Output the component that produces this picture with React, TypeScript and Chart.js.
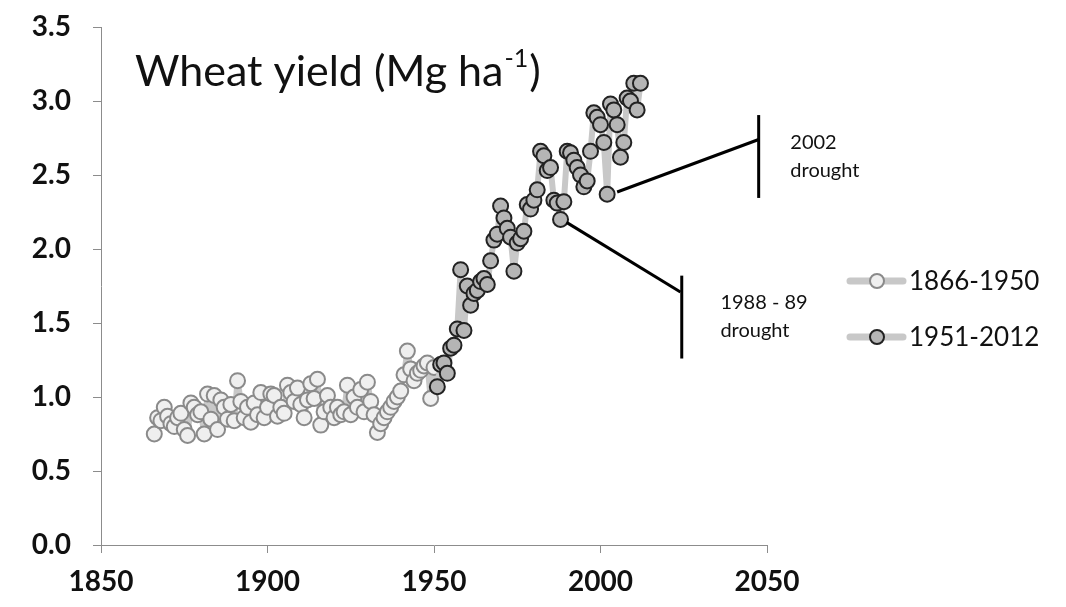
import React, { useEffect, useRef } from 'react';
import { Chart, registerables } from 'chart.js';

Chart.register(...registerables);

const FONT = 'Lato, "Open Sans", sans-serif';

// 1866-1950 series
const earlyStartYear = 1866;
const earlyYield = [
  0.75, 0.86, 0.84, 0.93, 0.87, 0.82, 0.8, 0.86, 0.89, 0.78,
  0.74, 0.96, 0.93, 0.88, 0.9, 0.75, 1.02, 0.85, 1.01, 0.78,
  0.98, 0.93, 0.85, 0.95, 0.84, 1.11, 0.97, 0.86, 0.93, 0.83,
  0.96, 0.88, 1.03, 0.86, 0.93, 1.02, 1.01, 0.87, 0.93, 0.89,
  1.08, 1.03, 0.97, 1.06, 0.95, 0.86, 0.98, 1.09, 0.99, 1.12,
  0.81, 0.9, 1.01, 0.93, 0.86, 0.93, 0.88, 0.9, 1.08, 0.88,
  1.0, 0.93, 1.05, 0.9, 1.1, 0.97, 0.88, 0.76, 0.82, 0.86,
  0.9, 0.93, 0.97, 1.0, 1.04, 1.15, 1.31, 1.19, 1.11, 1.16,
  1.18, 1.21, 1.23, 0.99, 1.2,
];

// 1951-2012 series
const lateStartYear = 1951;
const lateYield = [
  1.07, 1.22, 1.23, 1.16, 1.33, 1.35, 1.46, 1.86, 1.45, 1.75,
  1.62, 1.7, 1.72, 1.78, 1.8, 1.76, 1.92, 2.06, 2.1, 2.29,
  2.21, 2.14, 2.08, 1.85, 2.04, 2.07, 2.12, 2.3, 2.27, 2.33,
  2.4, 2.66, 2.63, 2.53, 2.55, 2.33, 2.31, 2.2, 2.32, 2.66,
  2.65, 2.6, 2.55, 2.5, 2.42, 2.46, 2.66, 2.92, 2.89, 2.84,
  2.72, 2.37, 2.98, 2.94, 2.84, 2.62, 2.72, 3.02, 3.0, 3.12,
  2.94, 3.12,
];

const seriesLabels = ['1866-1950', '1951-2012'];
const xRange = [1850, 2050];
const yRange = [0, 3.5];

// annotations (data units)
const drought2002 = { from: [2005, 2.385], to: [2047.5, 2.74], barX: 2047.5, barY: [2.345, 2.905], text: ['2002', 'drought'], textAt: [2057, 2.72] };
const drought1988 = { from: [1989.8, 2.18], to: [2024, 1.71], barX: 2024.4, barY: [1.26, 1.82], text: ['1988 - 89', 'drought'], textAt: [2036, 1.635] };
const droughts = [drought2002, drought1988];

const toPoints = (start: number, vals: number[]) => vals.map((v, i) => ({ x: start + i, y: v }));

const overlayPlugin = {
  id: 'overlay',
  afterDraw(chart: any) {
    const ctx = chart.ctx;
    const xs = chart.scales.x;
    const ys = chart.scales.y;
    ctx.save();
    // title
    ctx.fillStyle = '#111';
    ctx.textBaseline = 'alphabetic';
    ctx.textAlign = 'left';
    ctx.font = `43px ${FONT}`;
    const t1 = 'Wheat yield (Mg ha';
    let tx = 135;
    const ty = 86;
    ctx.fillText(t1, tx, ty);
    tx += ctx.measureText(t1).width;
    ctx.font = `25px ${FONT}`;
    ctx.fillText('-1', tx + 1, ty - 19);
    tx += ctx.measureText('-1').width + 2;
    ctx.font = `43px ${FONT}`;
    ctx.fillText(')', tx, ty);

    // drought annotations
    ctx.strokeStyle = '#000';
    ctx.lineWidth = 3;
    ctx.lineCap = 'butt';
    droughts.forEach((d) => {
      ctx.beginPath();
      ctx.moveTo(xs.getPixelForValue(d.from[0]), ys.getPixelForValue(d.from[1]));
      ctx.lineTo(xs.getPixelForValue(d.to[0]), ys.getPixelForValue(d.to[1]));
      ctx.stroke();
      ctx.beginPath();
      ctx.moveTo(xs.getPixelForValue(d.barX), ys.getPixelForValue(d.barY[0]));
      ctx.lineTo(xs.getPixelForValue(d.barX), ys.getPixelForValue(d.barY[1]));
      ctx.stroke();
      ctx.font = `20px ${FONT}`;
      ctx.fillStyle = '#111';
      ctx.textBaseline = 'middle';
      const lx = xs.getPixelForValue(d.textAt[0]);
      const ly = ys.getPixelForValue(d.textAt[1]);
      d.text.forEach((s, i) => ctx.fillText(s, lx, ly + i * 28));
    });

    // legend
    const legendY = [281, 337];
    const styles = [
      { fill: '#efefef', stroke: '#8a8a8a' },
      { fill: '#b5b5b5', stroke: '#222' },
    ];
    seriesLabels.forEach((lab, i) => {
      const y = legendY[i];
      ctx.strokeStyle = '#c8c8c8';
      ctx.lineWidth = 7;
      ctx.lineCap = 'round';
      ctx.beginPath();
      ctx.moveTo(850, y);
      ctx.lineTo(903, y);
      ctx.stroke();
      ctx.beginPath();
      ctx.arc(877, y, 7, 0, Math.PI * 2);
      ctx.fillStyle = styles[i].fill;
      ctx.fill();
      ctx.lineWidth = 2;
      ctx.strokeStyle = styles[i].stroke;
      ctx.stroke();
      ctx.fillStyle = '#111';
      ctx.font = `26px ${FONT}`;
      ctx.textBaseline = 'middle';
      ctx.textAlign = 'left';
      ctx.fillText(lab, 909, y + 1);
    });
    ctx.restore();
  },
};

export default function App() {
  const ref = useRef<HTMLCanvasElement | null>(null);
  useEffect(() => {
    if (!ref.current) return;
    const axisColor = '#8c8c8c';
    const lineStyle = {
      showLine: true,
      borderColor: '#c8c8c8',
      borderWidth: 6,
      borderJoinStyle: 'round' as const,
      borderCapStyle: 'round' as const,
      pointRadius: 7.5,
      pointBorderWidth: 2,
    };
    const chart = new Chart(ref.current, {
      type: 'scatter',
      data: {
        datasets: [
          {
            label: seriesLabels[1],
            data: toPoints(lateStartYear, lateYield),
            ...lineStyle,
            pointBackgroundColor: '#b5b5b5',
            pointBorderColor: '#222',
          },
          {
            label: seriesLabels[0],
            data: toPoints(earlyStartYear, earlyYield),
            ...lineStyle,
            pointBackgroundColor: '#efefef',
            pointBorderColor: '#8a8a8a',
          },
        ],
      },
      options: {
        responsive: false,
        animation: false,
        events: [],
        layout: { padding: { top: 27, right: 299, left: 0, bottom: 0 } },
        plugins: { legend: { display: false }, tooltip: { enabled: false }, title: { display: false } },
        scales: {
          x: {
            type: 'linear',
            min: xRange[0],
            max: xRange[1],
            afterFit: (s: any) => { s.height = 62; s.paddingLeft = 0; s.paddingRight = 0; },
            ticks: { stepSize: 50, color: '#111', font: { family: FONT, size: 28, weight: 'bold' }, padding: 12, callback: (v: any) => String(v) },
            grid: { drawOnChartArea: false, drawTicks: true, tickLength: 8, color: axisColor },
            border: { color: axisColor, width: 1 },
          },
          y: {
            min: yRange[0],
            max: yRange[1],
            afterFit: (s: any) => { s.width = 101; s.paddingTop = 0; s.paddingBottom = 0; },
            ticks: { stepSize: 0.5, color: '#111', font: { family: FONT, size: 28, weight: 'bold' }, padding: 22, callback: (v: any) => Number(v).toFixed(1) },
            grid: { drawOnChartArea: false, drawTicks: true, tickLength: 8, color: axisColor },
            border: { color: axisColor, width: 1 },
          },
        },
      },
      plugins: [overlayPlugin],
    });
    return () => chart.destroy();
  }, []);
  return (
    <div style={{ position: 'absolute', left: 0, top: 0, width: 1066, height: 607, background: '#fff' }}>
      <canvas ref={ref} width={1066} height={607} style={{ display: 'block' }} />
    </div>
  );
}
